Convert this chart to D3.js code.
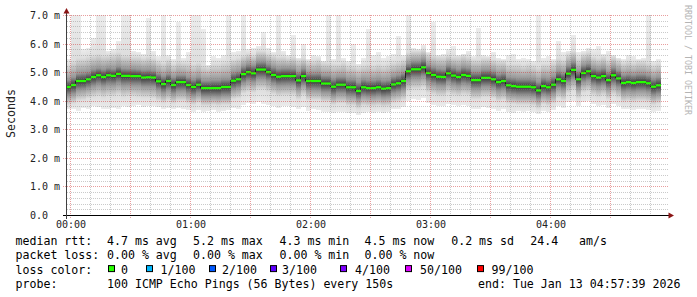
<!DOCTYPE html>
<html><head><meta charset="utf-8">
<script src="https://cdn.jsdelivr.net/npm/d3@7"></script>
<style>html,body{margin:0;padding:0;background:#fff;}svg{display:block;}</style>
</head><body>
<svg id="c" width="697" height="297"></svg>
<script>
// ---------------- data ----------------
const stepSeconds = 150;
const firstStepStart = "2026-01-12T23:57:30Z";
const viewStart = "2026-01-12T23:58:00Z";
const viewEnd = "2026-01-13T04:58:00Z";

const median = [4.48,4.55,4.69,4.69,4.75,4.83,4.89,4.83,4.89,4.87,
 4.94,4.87,4.87,4.86,4.86,4.81,4.82,4.81,4.68,4.58,
 4.69,4.55,4.65,4.65,4.55,4.48,4.56,4.44,4.44,4.44,
 4.44,4.48,4.48,4.70,4.75,4.93,5.00,4.96,5.09,5.09,
 5.00,4.90,4.84,4.86,4.86,4.86,4.71,4.86,4.69,4.69,
 4.69,4.60,4.60,4.49,4.56,4.56,4.47,4.47,4.34,4.47,
 4.44,4.44,4.47,4.42,4.44,4.57,4.61,4.69,5.03,5.10,
 5.10,5.17,4.97,4.90,4.84,4.83,4.96,4.88,4.83,4.90,
 4.87,4.72,4.72,4.80,4.80,4.75,4.65,4.69,4.54,4.51,
 4.49,4.49,4.49,4.47,4.36,4.51,4.47,4.56,4.75,4.69,
 4.95,5.08,4.75,4.97,5.03,4.86,4.81,4.86,4.72,4.89,
 4.78,4.62,4.65,4.62,4.65,4.65,4.61,4.49,4.54];

const pingMax = [5.45,7.0,7.0,5.8,5.85,6.2,7.0,7.0,5.75,5.8, 6.1,7.0,7.0,5.75,5.7,5.65,6.9,5.75,5.55,7.0, 5.6,5.45,6.75,5.5,5.7,7.0,7.0,6.5,5.25,5.55,
 5.5,5.6,7.0,5.7,5.75,7.0,5.8,5.85,5.9,6.4, 5.85,5.7,7.0,5.75,5.6,6.3,5.5,6.0,5.45,5.6, 5.55,5.4,7.0,5.45,7.0,5.5,5.4,6.0,5.3,5.5,
 6.5,5.6,5.7,5.5,5.55,5.65,6.25,5.6,7.0,5.85, 5.8,5.95,5.7,6.75,5.6,5.65,5.8,5.9,5.6,5.65, 5.75,5.55,6.55,5.6,5.55,5.7,5.5,5.45,5.6,5.65,
 5.45,5.5,5.45,5.4,7.0,5.5,5.55,5.45,6.1,5.7, 5.75,6.3,5.7,5.75,5.85,5.8,5.9,5.65,5.75,5.6, 5.5,5.45,5.6,5.55,5.45,5.5,7.0,5.4,5.45];

const pingHigh = [5.25,5.4,5.5,5.5,5.55,5.6,5.65,5.6,5.6,5.65, 5.7,5.6,5.6,5.55,5.55,5.5,5.55,5.5,5.4,5.35, 5.45,5.3,5.4,5.35,5.35,5.3,5.35,5.25,5.2,5.3,
 5.3,5.35,5.4,5.45,5.5,5.6,5.65,5.6,5.75,5.75, 5.65,5.6,5.55,5.55,5.5,5.55,5.45,5.5,5.4,5.4, 5.45,5.35,5.35,5.3,5.3,5.35,5.25,5.25,5.2,5.25,
 5.3,5.25,5.3,5.25,5.3,5.35,5.4,5.45,5.7,5.75, 5.75,5.8,5.65,5.6,5.55,5.55,5.6,5.55,5.55,5.6, 5.55,5.45,5.45,5.5,5.5,5.45,5.4,5.4,5.3,5.3,
 5.3,5.25,5.3,5.25,5.2,5.3,5.3,5.35,5.5,5.45, 5.65,5.75,5.5,5.65,5.7,5.55,5.5,5.55,5.45,5.55, 5.45,5.35,5.4,5.35,5.4,5.4,5.35,5.25,5.3];

const pingUpperQ = [4.72,4.82,4.95,4.97,5.0,5.1,5.14,5.1,5.15,5.12, 5.2,5.13,5.12,5.12,5.1,5.07,5.08,5.05,4.95,4.86, 4.94,4.82,4.9,4.9,4.82,4.75,4.82,4.7,4.7,4.72,
 4.72,4.76,4.76,4.98,5.02,5.2,5.28,5.24,5.36,5.37, 5.28,5.18,5.12,5.14,5.14,5.13,5.0,5.13,4.97,4.96, 4.97,4.88,4.88,4.77,4.84,4.84,4.75,4.75,4.64,4.75,
 4.72,4.72,4.75,4.7,4.72,4.85,4.9,4.97,5.3,5.38, 5.38,5.45,5.25,5.18,5.12,5.1,5.24,5.16,5.1,5.18, 5.15,5.0,5.0,5.08,5.08,5.03,4.93,4.97,4.82,4.8,
 4.77,4.77,4.77,4.75,4.65,4.8,4.76,4.85,5.03,4.97, 5.23,5.36,5.04,5.25,5.3,5.14,5.1,5.14,5.0,5.17, 5.06,4.9,4.93,4.9,4.93,4.93,4.89,4.77,4.82];

const pingLowerQ = [4.2,4.25,4.38,4.4,4.45,4.52,4.58,4.52,4.57,4.56, 4.62,4.55,4.56,4.55,4.55,4.5,4.5,4.5,4.38,4.28, 4.38,4.25,4.34,4.35,4.25,4.18,4.26,4.14,4.14,4.15,
 4.14,4.18,4.18,4.4,4.45,4.62,4.7,4.66,4.78,4.78, 4.7,4.6,4.54,4.55,4.56,4.56,4.41,4.55,4.38,4.39, 4.38,4.3,4.3,4.18,4.26,4.26,4.17,4.16,4.05,4.17,
 4.14,4.14,4.17,4.12,4.14,4.27,4.31,4.39,4.72,4.8, 4.8,4.86,4.67,4.6,4.54,4.53,4.66,4.58,4.53,4.6, 4.57,4.42,4.42,4.5,4.5,4.45,4.35,4.39,4.24,4.21,
 4.19,4.19,4.19,4.17,4.06,4.21,4.17,4.26,4.45,4.39, 4.64,4.77,4.45,4.66,4.72,4.56,4.5,4.55,4.42,4.58, 4.48,4.32,4.35,4.32,4.35,4.35,4.31,4.19,4.24];

const pingLow = [3.85,3.9,4.0,4.02,4.08,4.12,4.15,4.1,4.15,4.15, 4.2,4.12,4.15,4.15,4.12,4.1,4.1,4.08,4.0,3.92, 4.0,3.9,3.98,3.98,3.9,3.85,3.92,3.82,3.82,3.85,
 3.82,3.85,3.85,4.05,4.08,4.25,4.3,4.28,4.38,4.38, 4.3,4.22,4.15,4.18,4.18,4.18,4.05,4.18,4.02,4.02, 4.02,3.95,3.95,3.85,3.9,3.9,3.82,3.82,3.72,3.82,
 3.8,3.8,3.82,3.78,3.8,3.92,3.95,4.02,4.32,4.4, 4.4,4.45,4.28,4.2,4.15,4.15,4.25,4.18,4.15,4.2, 4.18,4.05,4.05,4.12,4.12,4.08,3.98,4.02,3.9,3.88,
 3.85,3.85,3.85,3.82,3.72,3.87,3.82,3.9,4.08,4.02, 4.25,4.35,4.08,4.28,4.32,4.18,4.12,4.18,4.05,4.2, 4.1,3.95,3.98,3.95,3.98,3.98,3.95,3.85,3.9];

const pingMin = [3.7,3.72,3.65,3.75,3.7,3.8,3.78,3.72,3.7,3.75, 3.72,3.8,3.78,3.82,3.85,3.78,3.8,3.82,3.78,3.72, 3.75,3.7,3.74,3.7,3.68,3.62,3.66,3.62,3.64,3.68,
 3.62,3.65,3.68,3.75,3.72,3.85,3.92,3.88,3.95,3.9, 3.85,3.8,3.75,3.8,3.82,3.78,3.7,3.78,3.65,3.7, 3.68,3.62,3.6,3.58,3.62,3.6,3.58,3.56,3.5,3.58,
 3.6,3.58,3.62,3.56,3.6,3.7,3.72,3.78,4.0,4.05, 4.02,4.08,3.92,3.85,3.82,3.8,3.9,3.85,3.8,3.85, 3.82,3.72,3.7,3.78,3.75,3.72,3.65,3.7,3.6,3.58,
 3.65,3.62,3.65,3.6,3.55,3.65,3.6,3.68,3.8,3.75, 3.95,4.0,3.8,3.95,4.0,3.88,3.82,3.85,3.75,3.88, 3.8,3.7,3.72,3.68,3.7,3.72,3.68,3.62,3.65];

const yTicks = [0,1,2,3,4,5,6,7];
const yTickLabels = ["0.0","1.0 m","2.0 m","3.0 m","4.0 m","5.0 m","6.0 m","7.0 m"];
const xTickLabels = ["00:00","01:00","02:00","03:00","04:00"];
const lossLabels = ["0","1/100","2/100","3/100","4/100","50/100","99/100"];
const lossColors = ["#26ff00","#00b8ff","#0059ff","#5e00ff","#7e00ff","#dd00ff","#ff0000"];
const rttStats = ["4.7 ms avg","5.2 ms max","4.3 ms min","4.5 ms now","0.2 ms sd"];
const lossStats = ["0.00 % avg","0.00 % max","0.00 % min","0.00 % now"];
const amValue = "24.4", amUnit = "am/s";
const probeText = "100 ICMP Echo Pings (56 Bytes) every 150s";
const endText = "end: Tue Jan 13 04:57:39 2026";

// ---------------- drawing ----------------
const svg = d3.select("#c");
const MONO = "'DejaVu Sans Mono', monospace";
const x = d3.scaleUtc().domain([new Date(viewStart), new Date(viewEnd)]).range([66, 666]);
const y = d3.scaleLinear().domain([0, 7]).range([215, 15]);
const t0 = new Date(firstStepStart).getTime();
const stepT = i => new Date(t0 + i * stepSeconds * 1000);
const px = d => Math.round(d) + 0.5;

const defs = svg.append("defs");
defs.append("clipPath").attr("id", "plot").append("rect")
  .attr("x", 67).attr("y", 15).attr("width", 600).attr("height", 200.5);

const shade = g => d3.rgb(g, g, g).formatHex();
const smoke = svg.append("g").attr("clip-path", "url(#plot)");
median.forEach((m, i) => {
  const top = y(pingMax[i]), bot = y(pingMin[i]);
  const levels = [pingMax[i], pingHigh[i], pingUpperQ[i], m, pingLowerQ[i], pingLow[i], pingMin[i]];
  const greys = [236, 222, 150, 55, 150, 222, 236];
  const g = defs.append("linearGradient").attr("id", "s" + i)
    .attr("gradientUnits", "userSpaceOnUse")
    .attr("x1", 0).attr("x2", 0).attr("y1", top).attr("y2", bot);
  levels.forEach((v, k) => {
    g.append("stop").attr("offset", (y(v) - top) / (bot - top)).attr("stop-color", shade(greys[k]));
  });
  const xa = x(stepT(i)) + 1, xb = x(stepT(i + 1)) + 1;
  smoke.append("rect").attr("x", xa).attr("width", xb - xa)
    .attr("y", top).attr("height", bot - top)
    .attr("shape-rendering", "crispEdges")
    .attr("fill", "url(#s" + i + ")");
});

// median dark line
const medPts = median.map((m, i) => [x(stepT(i)) + 0.5, y(m)]);
medPts.push([x(stepT(median.length)) + 0.5, y(median[median.length - 1])]);
smoke.append("path").attr("d", d3.line().curve(d3.curveStepAfter)(medPts))
  .attr("fill", "none").attr("stroke", "#202020").attr("stroke-width", 1);
// median band coloured by loss (0 loss -> green)
smoke.selectAll("rect.med").data(median).join("rect").attr("class", "med")
  .attr("x", (m, i) => x(stepT(i)) + 1)
  .attr("width", (m, i) => x(stepT(i + 1)) - x(stepT(i)))
  .attr("y", m => y(m + 0.04))
  .attr("height", m => y(m - 0.04) - y(m + 0.04))
  .attr("fill", lossColors[0]);

// grid
const grid = svg.append("g");
const minorGrey = "rgba(128,128,128,0.42)", majorRed = "rgba(205,40,40,0.45)";
const minorX = d3.utcMinute.every(10).range(new Date(viewStart), new Date(viewEnd));
minorX.forEach(t => {
  const major = t.getUTCMinutes() % 30 === 0;
  grid.append("line").attr("x1", px(x(t))).attr("x2", px(x(t)))
    .attr("y1", 15).attr("y2", major ? 218 : 215)
    .attr("stroke", major ? majorRed : minorGrey).attr("stroke-dasharray", "1,1");
});
d3.range(0, 7.0001, 0.2).forEach(v => {
  const major = Math.abs(v - Math.round(v)) < 1e-6;
  if (v < 0.1) return;
  grid.append("line").attr("y1", px(y(v))).attr("y2", px(y(v)))
    .attr("x1", major ? 63 : 67).attr("x2", 668)
    .attr("stroke", major ? majorRed : minorGrey).attr("stroke-dasharray", "1,1");
});

// axes
svg.append("line").attr("x1", 63).attr("x2", 669).attr("y1", 215.5).attr("y2", 215.5)
  .attr("stroke", "#000");
svg.append("line").attr("x1", 66.5).attr("x2", 66.5).attr("y1", 12).attr("y2", 219)
  .attr("stroke", "#404040");
svg.append("path").attr("d", "M63.5,13.5L69.5,13.5L66.5,8Z").attr("fill", "#8b1515");
svg.append("path").attr("d", "M668.5,212.5L668.5,218.5L674,215.5Z").attr("fill", "#8b1515");

// y labels
svg.selectAll("text.yl").data(yTicks).join("text").attr("class", "yl")
  .attr("x", 30).attr("y", v => y(v) + 4)
  .attr("font-family", MONO).attr("font-size", "10px").attr("fill", "#222")
  .text((v, i) => yTickLabels[i]);
// x labels
const hourTicks = d3.utcHour.every(1).range(new Date(viewStart), new Date(viewEnd));
svg.selectAll("text.xl").data(hourTicks).join("text").attr("class", "xl")
  .attr("x", t => x(t) + 1).attr("y", 227.5).attr("text-anchor", "middle")
  .attr("font-family", MONO).attr("font-size", "10px").attr("fill", "#222")
  .text((t, i) => xTickLabels[i]);

// axis title
svg.append("text").attr("transform", "translate(14.5,113.5) rotate(-90)")
  .attr("text-anchor", "middle").attr("font-family", MONO).attr("font-size", "11.6px")
  .attr("fill", "#222").text("Seconds");
// watermark
svg.append("text").attr("transform", "translate(685,5) rotate(90)")
  .attr("font-family", MONO).attr("font-size", "8.3px").attr("fill", "#b4b4b4")
  .text("RRDTOOL / TOBI OETIKER");

// legend
const leg = svg.append("g").attr("font-family", MONO).attr("font-size", "11.6px").attr("fill", "#000");
const L = [245, 259.3, 273.6, 288];
const statX = [107, 193, 279.5, 364.5, 451.2];
leg.append("text").attr("x", 15.5).attr("y", L[0]).text("median rtt:");
rttStats.forEach((s, i) => leg.append("text").attr("x", statX[i]).attr("y", L[0]).text(s));
leg.append("text").attr("x", 530.2).attr("y", L[0]).text(amValue);
leg.append("text").attr("x", 579).attr("y", L[0]).text(amUnit);
leg.append("text").attr("x", 15.5).attr("y", L[1]).text("packet loss:");
lossStats.forEach((s, i) => leg.append("text").attr("x", statX[i]).attr("y", L[1]).text(s));
leg.append("text").attr("x", 15.5).attr("y", L[2]).text("loss color:");
const swX = [108.5, 146.5, 209.5, 270.5, 340.5, 405.5, 477.5];
const swTextX = [121, 160.5, 222, 282, 355, 420, 491.5];
lossLabels.forEach((s, i) => {
  leg.append("rect").attr("x", swX[i]).attr("y", L[2] - 8).attr("width", 6).attr("height", 6)
    .attr("fill", lossColors[i]).attr("stroke", "#000").attr("stroke-width", 1);
  leg.append("text").attr("x", swTextX[i]).attr("y", L[2]).text(s);
});
leg.append("text").attr("x", 15.5).attr("y", L[3]).text("probe:");
leg.append("text").attr("x", 107).attr("y", L[3]).text(probeText);
leg.append("text").attr("x", 478).attr("y", L[3]).text(endText);
</script>
</body></html>
